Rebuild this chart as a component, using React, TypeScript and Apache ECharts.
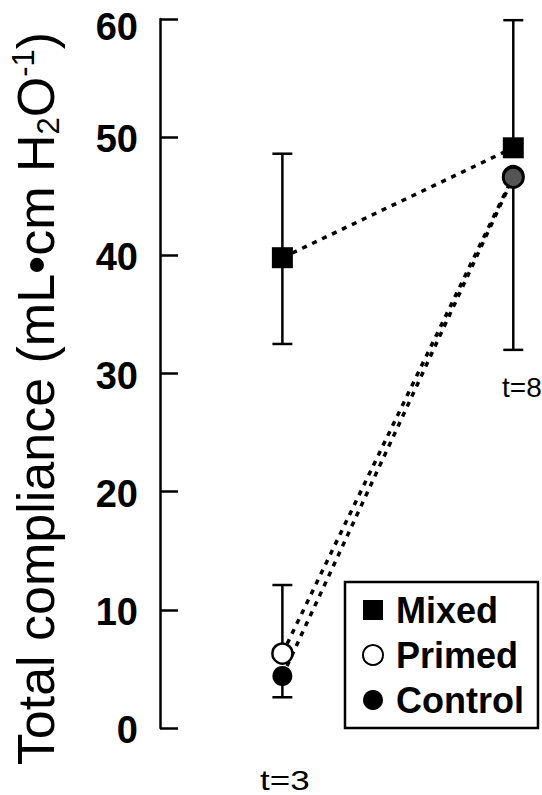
import React, { useEffect, useRef } from 'react';
import * as echarts from 'echarts';

const timePoints = [3, 8];
const timeLabels = ['t=3', 't=8'];
const seriesNames = ['Mixed', 'Primed', 'Control'];
const mixedMean = [39.8, 49.1];
const mixedUpper = [48.6, 59.9];
const mixedLower = [32.5, null];
const primedMean = [6.3, 46.7];
const primedUpper = [12.1, null];
const primedLower = [null, null];
const controlMean = [4.4, 46.6];
const controlUpper = [null, null];
const controlLower = [2.6, 32.0];

const FONT = '"Liberation Sans", Arial, Helvetica, sans-serif';

function segments(mean: (number | null)[], upper: (number | null)[], lower: (number | null)[]) {
  const out: number[][] = [];
  timePoints.forEach((t, i) => {
    const m = mean[i] as number;
    if (upper[i] != null) out.push([t, m, upper[i] as number]);
    if (lower[i] != null) out.push([t, m, lower[i] as number]);
  });
  return out;
}

export default function App() {
  const ref = useRef<HTMLDivElement>(null);
  useEffect(() => {
    if (!ref.current) return;
    const chart = echarts.init(ref.current, null, { renderer: 'svg' });
    const errData = [
      ...segments(mixedMean, mixedUpper, mixedLower),
      ...segments(primedMean, primedUpper, primedLower),
      ...segments(controlMean, controlUpper, controlLower),
    ];
    const lineStyle = { color: '#000', width: 3.5, type: [5, 6] as any };
    const labelBase = { fontSize: 38, fontWeight: 'bold', fontFamily: FONT, color: '#000', lineHeight: 38 };
    chart.setOption({
      animation: false,
      backgroundColor: '#fff',
      grid: { left: 160, right: 1, top: 19, bottom: 67, containLabel: false, outerBoundsMode: 'none' },
      xAxis: { type: 'value', min: 0.35, max: 8.6, show: false },
      yAxis: {
        type: 'value', min: 0, max: 60, interval: 10,
        axisLine: { show: true, lineStyle: { color: '#000', width: 2.5 } },
        axisTick: { show: true, inside: true, length: 18, lineStyle: { color: '#000', width: 2.5 } },
        splitLine: { show: false },
        axisLabel: {
          color: '#000', fontSize: 38, fontWeight: 'bold', fontFamily: FONT, margin: 22,
          formatter: (v: number) => (v === 60 ? `{t|${v}}` : `{n|${v}}`),
          rich: {
            t: { ...labelBase, padding: [16, 0, 0, 0] },
            n: { ...labelBase, padding: [4, 0, 0, 0] },
          },
        },
        name: 'Total compliance (mL•cm H{sub|2}O{sup|-1})',
        nameLocation: 'middle',
        nameRotate: 90,
        nameGap: 96,
        nameTextStyle: {
          color: '#000', fontSize: 52, fontFamily: FONT, lineHeight: 56,
          padding: [0, 50, 0, 0],
          rich: {
            sub: { fontSize: 31, fontFamily: FONT, color: '#000', verticalAlign: 'bottom', lineHeight: 56 },
            sup: { fontSize: 31, fontFamily: FONT, color: '#000', verticalAlign: 'top', lineHeight: 56 },
          },
        },
      },
      legend: {
        orient: 'vertical', left: 345, top: 582,
        padding: [10, 14, 10, 17], itemGap: 9, itemWidth: 20, itemHeight: 20,
        borderColor: '#000', borderWidth: 2.5, backgroundColor: '#fff',
        textStyle: { color: '#000', fontSize: 36, fontWeight: 'bold', fontFamily: FONT, lineHeight: 36, padding: [0, 0, 0, 8] },
        data: [
          { name: seriesNames[0], icon: 'rect' },
          { name: seriesNames[1], icon: 'circle' },
          { name: seriesNames[2], icon: 'circle' },
        ],
      },
      graphic: [
        { type: 'text', x: 260, y: 766, scaleX: 1.25, style: { text: timeLabels[0], fontSize: 28, fontFamily: FONT, fill: '#000' } },
        { type: 'text', x: 502, y: 373, style: { text: timeLabels[1], fontSize: 28, fontFamily: FONT, fill: '#000' } },
      ],
      series: [
        {
          type: 'custom', name: 'err', z: 1, silent: true,
          data: errData,
          renderItem: (params: any, api: any) => {
            const x = api.value(0), a = api.value(1), b = api.value(2);
            const p1 = api.coord([x, a]);
            const p2 = api.coord([x, b]);
            return {
              type: 'group',
              children: [
                { type: 'line', shape: { x1: p1[0], y1: p1[1], x2: p2[0], y2: p2[1] }, style: { stroke: '#000', lineWidth: 2.5 } },
                { type: 'line', shape: { x1: p2[0] - 10, y1: p2[1], x2: p2[0] + 10, y2: p2[1] }, style: { stroke: '#000', lineWidth: 2.5 } },
              ],
            };
          },
        },
        {
          type: 'line', name: seriesNames[0], z: 3,
          data: timePoints.map((t, i) => [t, mixedMean[i]]),
          symbol: 'rect', symbolSize: 21,
          itemStyle: { color: '#000' },
          lineStyle,
        },
        {
          type: 'line', name: seriesNames[1], z: 3,
          data: timePoints.map((t, i) => [t, primedMean[i]]),
          symbol: 'circle', symbolSize: 20,
          itemStyle: { color: '#fff', borderColor: '#000', borderWidth: 2.5 },
          lineStyle,
        },
        {
          type: 'line', name: seriesNames[2], z: 3,
          data: timePoints.map((t, i) => i === 1
            ? { value: [t, controlMean[i]], itemStyle: { color: '#555', borderColor: '#000', borderWidth: 3 } }
            : [t, controlMean[i]]),
          symbol: 'circle', symbolSize: 20,
          itemStyle: { color: '#000' },
          lineStyle,
        },
      ],
    });
    return () => chart.dispose();
  }, []);
  return <div ref={ref} style={{ position: 'absolute', left: 0, top: 0, width: 542, height: 795 }} />;
}
